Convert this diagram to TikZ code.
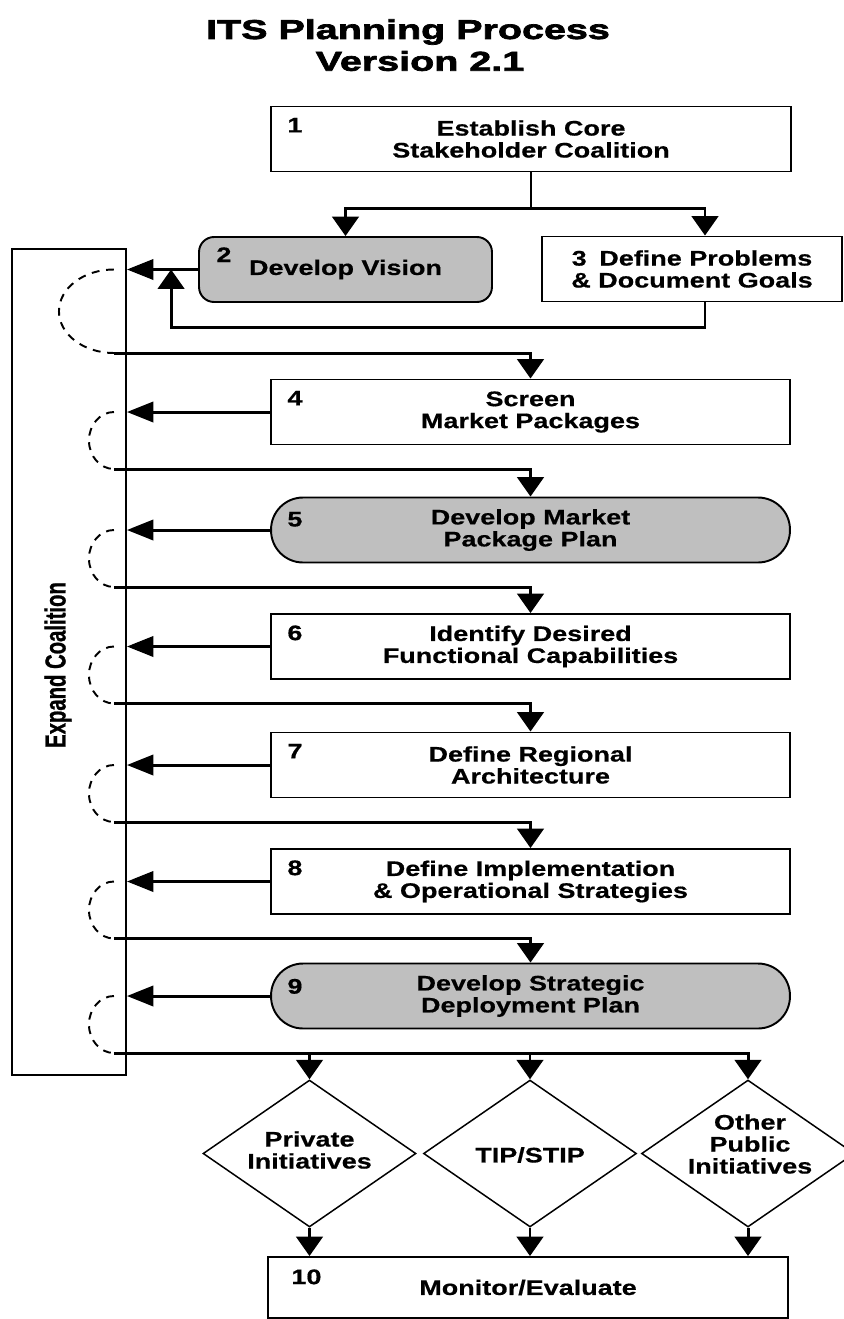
\documentclass[tikz,border=0pt]{standalone}
\usepackage{fontspec}
\setmainfont{Liberation Sans}
\newfontfamily\boxfont{Liberation Sans}[FakeStretch=1.28,FakeBold=0.6]
\newfontfamily\titlefont{Liberation Sans}[FakeStretch=1.45,FakeBold=2.6]
\newfontfamily\sidefont{Liberation Sans}[FakeStretch=0.7,FakeBold=0.8]
\usetikzlibrary{arrows.meta, shapes.geometric, calc}

\begin{document}
\begin{tikzpicture}[x=0.02cm, y=-0.02cm,
	every node/.style={font=\boxfont\bfseries\fontsize{12}{12.5}\selectfont, align=center, inner sep=0pt},
	stepbox/.style={draw, line width=1.1pt, minimum width=10.38cm, minimum height=1.3cm},
	planbox/.style={stepbox, fill=black!25, rounded corners=0.64cm},
	choice/.style={draw, diamond, line width=0.85pt, minimum width=4.26cm, minimum height=2.94cm},
	num/.style={anchor=north west},
	link/.style={line width=1.7pt},
	darr/.style={link, -{Triangle[length=11pt, width=15pt]}},
	larr/.style={link, -{Triangle[length=15pt, width=11.5pt]}},
	dashline/.style={line width=1.1pt, dash pattern=on 4.5pt off 3.8pt}]
	
	\useasboundingbox (0,0) rectangle (844,1319);
	
	% title
	\node[font=\titlefont\bfseries\fontsize{15.5}{15.5}\selectfont] (title) at (408,32) {ITS Planning Process};
	\node[font=\titlefont\bfseries\fontsize{15.5}{15.5}\selectfont] (version) at (420,61) {Version 2.1};
	
	% expand coalition column
	\node[draw, line width=1.1pt, minimum width=2.28cm, minimum height=16.52cm] (cx) at (69,662) {};
	\node[rotate=90, font=\sidefont\bfseries\fontsize{16.5}{16.5}\selectfont] (cxt) at (58,665) {Expand Coalition};
	
	% steps
	\node[stepbox, minimum width=10.4cm] (s1) at (531,139) {Establish Core\\Stakeholder Coalition};
	\node[planbox, minimum width=5.86cm, rounded corners=0.3cm] (s2) at (345.5,269.5) {Develop Vision};
	\node[stepbox, minimum width=6cm] (s3) at (692,269) {3\hspace{0.6em}Define Problems\\\& Document Goals};
	\node[stepbox] (s4) at (530.5,412) {Screen\\Market Packages};
	\node[planbox] (s5) at (530.5,530) {Develop Market\\Package Plan};
	\node[stepbox] (s6) at (530.5,646.5) {Identify Desired\\Functional Capabilities};
	\node[stepbox] (s7) at (530.5,765) {Define Regional\\Architecture};
	\node[stepbox] (s8) at (530.5,881.5) {Define Implementation\\\& Operational Strategies};
	\node[planbox] (s9) at (530.5,996) {Develop Strategic\\Deployment Plan};
	\node[stepbox, minimum width=10.4cm, minimum height=1.22cm] (s10) at (528,1287.5) {Monitor/Evaluate};
	
	\foreach \k in {1,4,6,7,8}
	\node[num] (n\k) at ([shift={(17,12)}]s\k.north west) {\k};
	\node[num] (n2) at ([shift={(18,11)}]s2.north west) {2};
	\node[num] (n5) at ([shift={(17,15)}]s5.north west) {5};
	\node[num] (n9) at ([shift={(17,16)}]s9.north west) {9};
	\node[num] (n10) at ([shift={(24,13)}]s10.north west) {10};
	
	% choices
	\node[choice] (d1) at (309.5,1153.5) {};
	\node[choice] (d2) at (530,1153.5) {};
	\node[choice] (d3) at (748,1153.5) {};
	\node (t1) at (309.5,1150) {Private\\Initiatives};
	\node (t2) at (530,1155) {TIP/STIP};
	\node (t3) at (750,1144) {Other\\Public\\Initiatives};
	
	% top of the process
	\draw[darr] (s1.south) -- ++(0,36) coordinate (j1) -| (s2.north);
	\draw[darr] (j1) -| ([xshift=0.26cm]s3.north);
	\draw[darr] ([xshift=0.26cm]s3.south) -- ++(0,25) -| ([xshift=-0.54cm]s2.west);
	
	% loops through the coalition
	\draw[larr] (s2.west) -- (s2.west -| cx.east);
	\draw[dashline] ($(s2.west -| cx.east)+(-13,0)$) arc[start angle=270, end angle=90, x radius=55, y radius=41.75];
	\draw[darr] ($(s2.west -| cx.east)+(-13,83.5)$) -| (s4.north);
	
	\foreach \k/\n in {4/5,5/6,6/7,7/8,8/9}
	{
		\draw[larr] (s\k.west) -- (s\k.west -| cx.east);
		\draw[dashline] ($(s\k.west -| cx.east)+(-13,0)$) arc[start angle=270, end angle=90, x radius=25, y radius=28.5];
		\draw[darr] ($(s\k.west -| cx.east)+(-13,57)$) -| (s\n.north);
	}
	
	\draw[larr] (s9.west) -- (s9.west -| cx.east);
	\draw[dashline] ($(s9.west -| cx.east)+(-13,0)$) arc[start angle=270, end angle=90, x radius=25, y radius=28.5];
	\draw[darr] ($(s9.west -| cx.east)+(-13,57)$) coordinate (o9) -| (d3.north);
	\draw[darr] (o9 -| d1.north) -- (d1.north);
	\draw[darr] (o9 -| d2.north) -- (d2.north);
	
	\foreach \d in {1,2,3}
	\draw[darr] (d\d.south) -- (d\d.south |- s10.north);
	
\end{tikzpicture}
\end{document}
